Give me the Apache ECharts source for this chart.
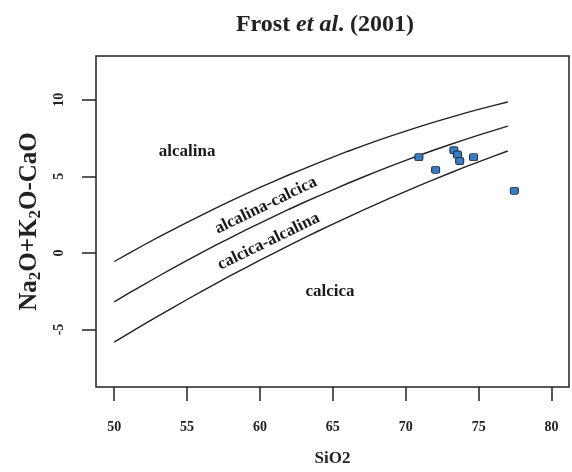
<!DOCTYPE html>
<html>
<head>
<meta charset="utf-8">
<script src="https://cdn.jsdelivr.net/npm/echarts@6/dist/echarts.min.js"></script>
<style>html,body{margin:0;padding:0;background:#fff}#c{width:572px;height:472px}</style>
</head>
<body>
<div id="c"></div>
<script>
// SiO2 grid for boundary lines
const siGrid = [50,51,52,53,54,55,56,57,58,59,60,61,62,63,64,65,66,67,68,69,70,71,72,73,74,75,76,77];
// alcalina / alcalina-calcica boundary
const lineAlkAlkCalc = [-0.56,-0.03,0.50,1.01,1.51,2.00,2.47,2.94,3.39,3.84,4.27,4.69,5.10,5.49,5.88,6.25,6.62,6.97,7.31,7.64,7.95,8.26,8.55,8.83,9.11,9.37,9.61,9.85];
// alcalina-calcica / calcica-alcalina boundary
const lineAlkCalcCalcAlk = [-3.20,-2.63,-2.08,-1.54,-1.01,-0.49,0.02,0.52,1.00,1.48,1.95,2.40,2.85,3.29,3.71,4.12,4.53,4.92,5.30,5.68,6.04,6.39,6.73,7.06,7.38,7.69,7.98,8.27];
// calcica-alcalina / calcica boundary
const lineCalcAlkCalc = [-5.82,-5.25,-4.68,-4.13,-3.58,-3.04,-2.51,-1.99,-1.47,-0.97,-0.47,0.01,0.49,0.96,1.43,1.88,2.32,2.76,3.19,3.61,4.02,4.42,4.81,5.20,5.58,5.94,6.30,6.65];
// samples
const sampleSiO2 = [70.9, 73.3, 73.55, 73.7, 74.65, 72.05, 77.45];
const sampleMALI = [6.25, 6.7, 6.42, 6.0, 6.25, 5.42, 4.05];
// field names
const fieldNames = ['alcalina', 'alcalina-calcica', 'calcica-alcalina', 'calcica'];
const fieldX = [55.0, 60.4, 60.6, 64.8];
const fieldY = [6.6, 3.1, 0.75, -2.55];
const fieldRot = [0, 26, 26, 0];
// ticks
const xTicks = [50, 55, 60, 65, 70, 75, 80];
const yTicks = [-5, 0, 5, 10];

const FONT = 'Liberation Serif';
const DARK = '#222';

function pairs(xs, ys) { return xs.map((x, i) => [x, ys[i]]); }

const lineStyle = { color: DARK, width: 1.4 };
const lineSeries = [lineAlkAlkCalc, lineAlkCalcCalcAlk, lineCalcAlkCalc].map(arr => ({
  type: 'line', data: pairs(siGrid, arr), showSymbol: false, symbol: 'none',
  lineStyle: lineStyle, silent: true, z: 2
}));

const labelSeries = fieldNames.map((name, i) => ({
  type: 'scatter', symbolSize: 0, silent: true, z: 3,
  itemStyle: { opacity: 1 },
  data: [[fieldX[i], fieldY[i]]],
  label: {
    show: true, position: 'inside', formatter: name, rotate: fieldRot[i],
    fontFamily: FONT, fontWeight: 'bold', fontSize: 17, color: '#1a1a1a',
    textBorderWidth: 0, textShadowBlur: 0
  }
}));

const chart = echarts.init(document.getElementById('c'), null, { renderer: 'canvas' });
chart.setOption({
  animation: false,
  backgroundColor: '#fff',
  title: {
    text: '{b|Frost }{i|et al}{b|. (2001)}',
    left: 320, top: 8, textAlign: 'center',
    textStyle: {
      rich: {
        b: { fontFamily: FONT, fontWeight: 'bold', fontSize: 24, color: DARK },
        i: { fontFamily: FONT, fontWeight: 'bold', fontStyle: 'italic', fontSize: 24, color: DARK }
      }
    }
  },
  grid: { left: 96, right: 3, top: 56, bottom: 83, show: true, borderColor: DARK, borderWidth: 1.5, backgroundColor: 'transparent' },
  xAxis: {
    type: 'value', min: 48.75, max: 81.2,
    name: 'SiO2', nameLocation: 'middle', nameGap: 63,
    nameTextStyle: { fontFamily: FONT, fontWeight: 'bold', fontSize: 17, color: DARK },
    axisLine: { show: false, onZero: false },
    splitLine: { show: false },
    axisTick: { show: true, length: 14, lineStyle: { color: DARK, width: 1.5 }, customValues: xTicks },
    axisLabel: { margin: 33, fontFamily: FONT, fontWeight: 'bold', fontSize: 14, color: DARK, customValues: xTicks }
  },
  yAxis: {
    type: 'value', min: -8.75, max: 12.85,
    name: '{b|Na}{s|2}{b|O+K}{s|2}{b|O-CaO}', nameLocation: 'middle', nameGap: 50, nameRotate: 90,
    nameTextStyle: {
      rich: {
        b: { fontFamily: FONT, fontWeight: 'bold', fontSize: 25, color: DARK, lineHeight: 30, verticalAlign: 'middle' },
        s: { fontFamily: FONT, fontWeight: 'bold', fontSize: 17, color: DARK, lineHeight: 30, verticalAlign: 'bottom', padding: [12, 0, 0, 0] }
      }
    },
    axisLine: { show: false, onZero: false },
    splitLine: { show: false },
    axisTick: { show: true, length: 14, lineStyle: { color: DARK, width: 1.5 }, customValues: yTicks },
    axisLabel: { margin: 30, rotate: 90, fontFamily: FONT, fontWeight: 'bold', fontSize: 14, color: DARK, customValues: yTicks }
  },
  series: [
    ...lineSeries,
    ...labelSeries,
    {
      type: 'scatter', z: 4,
      data: pairs(sampleSiO2, sampleMALI),
      symbol: 'roundRect', symbolSize: [8, 7],
      itemStyle: { color: '#3a7bc2', borderColor: '#1c2f45', borderWidth: 1, opacity: 1 }
    }
  ]
});
</script>
</body>
</html>
